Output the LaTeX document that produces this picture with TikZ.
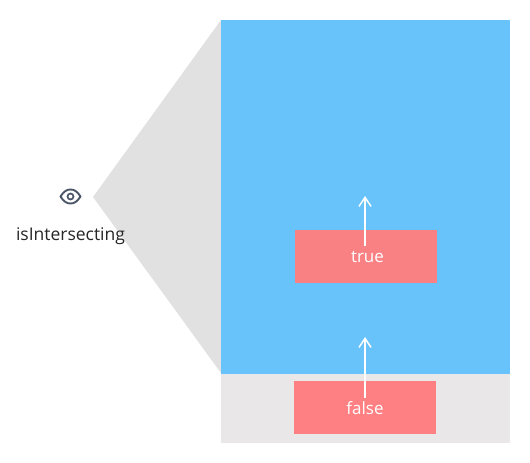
\documentclass[tikz,border=0pt]{standalone}
\usepackage{fontspec}
\setmainfont{Open Sans}
\usetikzlibrary{arrows.meta}
\definecolor{skyb}{HTML}{67C3FA}
\definecolor{lgray}{HTML}{E9E7E8}
\definecolor{cone}{HTML}{E1E1E1}
\definecolor{redA}{HTML}{FF8082}
\definecolor{redB}{HTML}{F98183}
\definecolor{eyec}{HTML}{4A5568}
\tikzset{
  flagbox/.style={minimum width=142pt,minimum height=53pt,inner sep=0pt},
  flaglabel/.style={text=white,inner sep=0pt,font=\fontsize{17}{18}\selectfont},
  uparrow/.style={draw=white,line width=1.6pt,-{Straight Barb[length=9pt,width=12pt,line width=1.5pt]}},
}
\begin{document}
\begin{tikzpicture}[x=1pt,y=-1pt]
\useasboundingbox (0,0) rectangle (530,463);
\fill[white] (0,0) rectangle (530,463);
\fill[cone] (93,197) -- (221,20) -- (221,373) -- cycle;
\fill[lgray] (221,373) rectangle (510,443);
\fill[skyb] (221,20) rectangle (510,373.5);
\node[flagbox,fill=redB] (truebox) at (366,256.5) {};
\node[flagbox,fill=redA] (falsebox) at (365,407.5) {};
\node[flaglabel] (truelabel) at (367.5,256.5) {true};
\node[flaglabel] (falselabel) at (365,408) {false};
\coordinate (t0) at (365,245.5);
\coordinate (t1) at (365,196);
\coordinate (f0) at (365,397.5);
\coordinate (f1) at (365,337);
\draw[uparrow] (t0) -- (t1);
\draw[uparrow] (f0) -- (f1);
% eye
\draw[eyec,line width=1.9pt,line join=round] (60.5,196.5) .. controls (64,191) and (67,189.5) .. (70.5,189.5) .. controls (74,189.5) and (77,191) .. (80.5,196.5) .. controls (77,202) and (74,203.5) .. (70.5,203.5) .. controls (67,203.5) and (64,202) .. (60.5,196.5) -- cycle;
\draw[eyec,line width=1.7pt] (70.5,196.5) circle (3pt);
\node[text=black!85,font=\fontsize{17.5}{20}\selectfont,inner sep=0pt] (title) at (70.5,236.5) {isIntersecting};
\end{tikzpicture}
\end{document}
